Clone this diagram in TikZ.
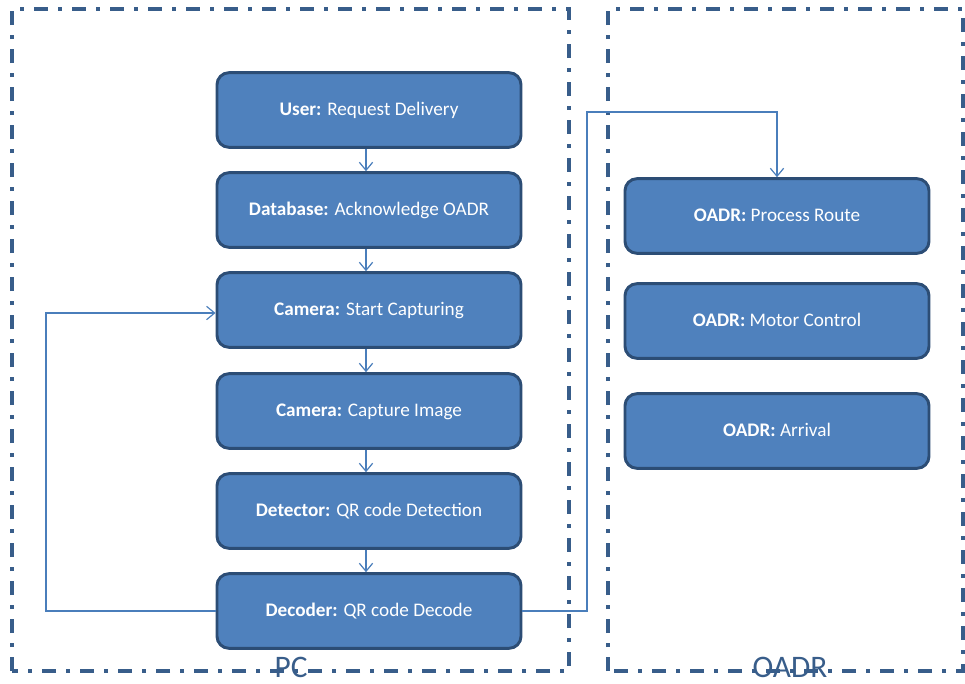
\documentclass[tikz,border=0pt]{standalone}
\usepackage{fontspec}
\setmainfont{Carlito}
\usetikzlibrary{arrows.meta}
\definecolor{boxfill}{HTML}{4F81BD}
\definecolor{boxline}{HTML}{2C4D75}
\definecolor{conn}{HTML}{4A7EBB}
\definecolor{frame}{HTML}{385D8A}
\tikzset{
  stepbox/.style={draw=boxline, fill=boxfill, line width=2.2pt, rounded corners=9pt,
    minimum width=228pt, minimum height=56pt, text=white, font=\fontsize{14.4}{16}\selectfont,
    inner sep=0pt, text height=11pt, text depth=2.2pt},
  conn/.style={draw=conn, line width=0.9pt, -{Straight Barb[length=6pt,width=10pt,line width=0.9pt]}},
  region/.style={draw=frame, line width=2.4pt, dash pattern=on 10.5pt off 7.5pt on 3pt off 7.5pt},
  reglabel/.style={text=frame, font=\fontsize{23.5}{26}\selectfont, inner sep=0pt, anchor=base}
}
\begin{document}
\begin{tikzpicture}[x=0.75pt,y=-0.75pt]
\useasboundingbox (0,0) rectangle (965,683);
\draw[region] (12,671) -- (12,9) -- (569,9) -- (569,671) -- cycle;
\draw[region] (608,671) -- (608,9) -- (963,9) -- (963,671) -- cycle;
\node[reglabel] (pc) at (291,677) {PC};
\node[reglabel] (oadrl) at (790,677) {OADR};

\node[stepbox] (user) at (369,110) {\textbf{User:} Request Delivery};
\node[stepbox] (db) at (369,210) {\textbf{Database:} Acknowledge OADR};
\node[stepbox] (cam1) at (369,310) {\textbf{Camera:} Start Capturing};
\node[stepbox] (cam2) at (369,411) {\textbf{Camera:} Capture Image};
\node[stepbox] (det) at (369,511) {\textbf{Detector:} QR code Detection};
\node[stepbox] (dec) at (369,611) {\textbf{Decoder:} QR code Decode};

\node[stepbox] (proc) at (777,216) {\textbf{OADR:} Process Route};
\node[stepbox] (motor) at (777,321) {\textbf{OADR:} Motor Control};
\node[stepbox] (arr) at (777,431) {\textbf{OADR:} Arrival};

\coordinate (a1) at (366,0);
\draw[conn] (user.south -| a1) -- (db.north -| a1);
\draw[conn] (db.south -| a1) -- (cam1.north -| a1);
\draw[conn] (cam1.south -| a1) -- (cam2.north -| a1);
\draw[conn] (cam2.south -| a1) -- (det.north -| a1);
\draw[conn] (det.south -| a1) -- (dec.north -| a1);

\coordinate (lx) at (46,0);
\coordinate (ly) at (0,313);
\draw[conn] (dec.west) -- (dec.west -| lx) -- (lx |- ly) -- (cam1.west |- ly);

\coordinate (rx) at (587,0);
\coordinate (ry) at (0,112);
\draw[conn] (dec.east) -- (dec.east -| rx) -- (rx |- ry) -- (proc.north |- ry) -- (proc.north);
\end{tikzpicture}
\end{document}
